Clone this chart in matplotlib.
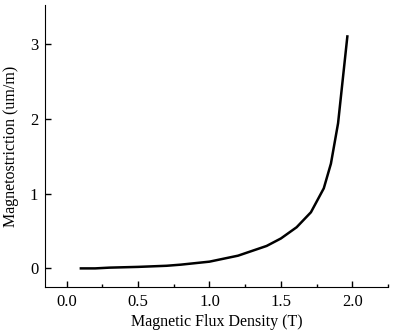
import matplotlib
matplotlib.use('Agg')
import matplotlib.pyplot as plt
from matplotlib.ticker import MultipleLocator

# Magnetostriction curve
flux_density = [0.1, 0.2, 0.3, 0.5, 0.7, 0.8, 1.0, 1.2, 1.4, 1.5, 1.61, 1.71, 1.80, 1.85, 1.90, 1.965]
magnetostriction = [0.0, 0.0, 0.01, 0.02, 0.035, 0.05, 0.09, 0.17, 0.30, 0.40, 0.55, 0.75, 1.07, 1.40, 1.94, 3.10]

plt.rcParams['font.family'] = 'Liberation Serif'

fig = plt.figure(figsize=(3.96, 3.35), dpi=100)
ax = fig.add_axes([0.114, 0.143, 0.866, 0.842])

ax.plot(flux_density, magnetostriction, color='black', linewidth=1.8)

ax.set_xlim(-0.15, 2.25)
ax.set_ylim(-0.25, 3.52)
ax.xaxis.set_major_locator(MultipleLocator(0.5))
ax.xaxis.set_minor_locator(MultipleLocator(0.25))
ax.yaxis.set_major_locator(MultipleLocator(1))
ax.xaxis.set_major_formatter(plt.FormatStrFormatter('%.1f'))

ax.spines['top'].set_visible(False)
ax.spines['right'].set_visible(False)
ax.tick_params(direction='in', length=4, width=1, labelsize=12, pad=5)
ax.tick_params(which='minor', direction='in', length=2.5, width=1)

ax.set_xlabel('Magnetic Flux Density (T)', fontsize=11.5, labelpad=3)
ax.set_ylabel('Magnetostriction (um/m)', fontsize=11.5, labelpad=8)

plt.savefig('out.png', dpi=100)
